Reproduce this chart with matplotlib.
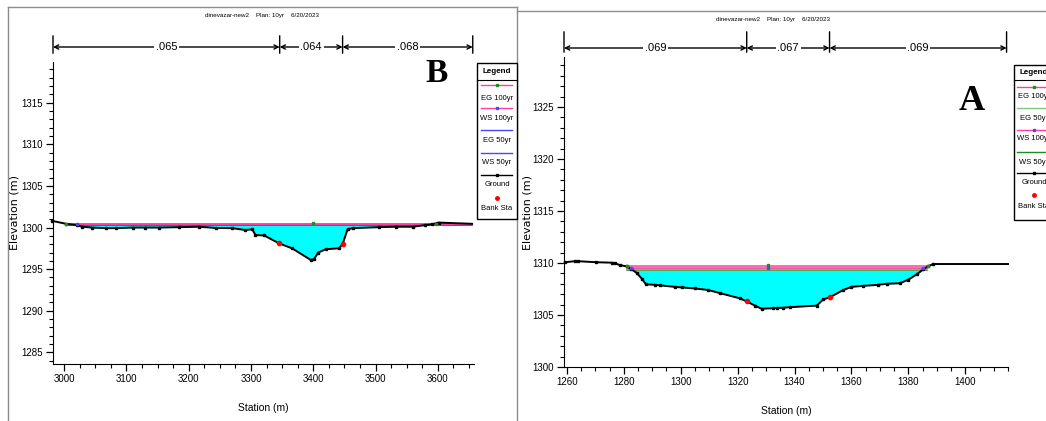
import numpy as np
import matplotlib
matplotlib.use('Agg')
import matplotlib.pyplot as plt
from matplotlib.ticker import MultipleLocator
from matplotlib.lines import Line2D
from matplotlib.patches import Rectangle

W, H = 1046, 421
plt.rcParams['font.family'] = ['Liberation Sans Narrow', 'Liberation Sans', 'DejaVu Sans']

title_txt = 'dinevazar-new2    Plan: 10yr    6/20/2023'

# ---- cross section B (left)
b_sta = [2981, 3003, 3020, 3029, 3045, 3067, 3083, 3110, 3130, 3152, 3185, 3217,
         3243, 3270, 3291, 3302, 3307, 3321, 3345, 3366, 3396, 3401, 3408, 3420,
         3441, 3447, 3455, 3463, 3506, 3532, 3560, 3580, 3591, 3601, 3655]
b_elev = [1300.8, 1300.45, 1300.3, 1300.1, 1300.0, 1299.93, 1299.93, 1300.0, 1300.0,
          1300.0, 1300.05, 1300.1, 1299.95, 1299.93, 1299.7, 1299.8, 1299.1, 1299.05,
          1298.1, 1297.5, 1296.1, 1296.2, 1297.0, 1297.4, 1297.5, 1298.0, 1299.8,
          1299.93, 1300.05, 1300.1, 1300.1, 1300.3, 1300.4, 1300.6, 1300.45]
b_bank_sta = [3345, 3447]
b_bank_elev = [1298.1, 1298.0]
b_eg100, b_ws100, b_eg50, b_ws50 = 1300.45, 1300.40, 1300.35, 1300.30
b_ws_from, b_ws_to = 3003, 3655
b_n_vals = ['.065', '.064', '.068']
b_n_breaks = [2982, 3346, 3447, 3656]

# ---- cross section A (right)
a_sta = [1259.3, 1262.8, 1264, 1270.4, 1275.7, 1276.9, 1278.6, 1281, 1282.7, 1284.5,
         1286.3, 1287.8, 1290.9, 1292.7, 1298, 1300.3, 1305, 1309.7, 1313.8, 1320.8,
         1323.2, 1326.1, 1328.4, 1332.5, 1334, 1336, 1338.4, 1347.8, 1350.1, 1352.4,
         1357.1, 1360, 1364.1, 1369.4, 1372.4, 1377, 1380, 1382.9, 1385.3, 1387,
         1388.8, 1415]
a_elev = [1310.07, 1310.17, 1310.17, 1310.07, 1310.03, 1309.97, 1309.8, 1309.67, 1309.4,
          1309.05, 1308.5, 1307.95, 1307.9, 1307.85, 1307.7, 1307.65, 1307.55, 1307.4,
          1307.1, 1306.6, 1306.3, 1305.9, 1305.6, 1305.65, 1305.68, 1305.7, 1305.75,
          1305.9, 1306.5, 1306.7, 1307.4, 1307.7, 1307.8, 1307.9, 1308.0, 1308.05,
          1308.4, 1308.9, 1309.4, 1309.7, 1309.9, 1309.9]
a_bank_sta = [1323.2, 1352.4]
a_bank_elev = [1306.3, 1306.7]
a_eg100, a_ws100, a_eg50, a_ws50 = 1309.68, 1309.52, 1309.41, 1309.28
a_ws_from, a_ws_to = 1281, 1386.5
a_n_vals = ['.069', '.067', '.069']
a_n_breaks = [1259, 1323.2, 1352.3, 1414.5]

PINK = '#ff3fa0'
BLUE = '#4646ff'
LGREEN = '#7fc87f'
DGREEN = '#1e8c1e'
GRAY = '#8c8c8c'


def fx(x):
    return x / W


def fy(y):
    return 1 - y / H


fig = plt.figure(figsize=(W / 100, H / 100), dpi=100)

# panel frames
for xs, ys in [([8, 8], [7, 421]), ([8, 517], [7, 7]), ([517, 517], [7, 421]),
               ([517, 1046], [11, 11])]:
    fig.add_artist(Line2D([fx(v) for v in xs], [fy(v) for v in ys], color=GRAY, lw=1))


def panel(rect, sta, elev, xlim, ylim, xmaj, xmin, ymaj, bank_sta, bank_elev,
          levels, ws_from, ws_to, fill_top, n_vals, n_breaks, dim_y, bar_y, ylab_x):
    x0, y0, x1, y1 = rect
    ax = fig.add_axes([fx(x0), fy(y1), fx(x1 - x0), (y1 - y0) / H])
    ax.set_xlim(xlim)
    ax.set_ylim(ylim)
    for s in ['top', 'right']:
        ax.spines[s].set_visible(False)
    ax.xaxis.set_major_locator(MultipleLocator(xmaj))
    ax.xaxis.set_minor_locator(MultipleLocator(xmin))
    ax.yaxis.set_major_locator(MultipleLocator(ymaj))
    ax.yaxis.set_minor_locator(MultipleLocator(1))
    ax.tick_params(which='major', length=5, width=0.9, labelsize=7, direction='out', pad=2)
    ax.tick_params(which='minor', length=3, width=0.8, direction='out')
    ax.set_xlabel('Station (m)', fontsize=7.5, labelpad=14)
    fig.text(fx(ylab_x), fy((y0 + y1) / 2), 'Elevation (m)', rotation=90, fontsize=8,
             ha='center', va='center', family=['DejaVu Sans'])

    # water fill
    xs = np.linspace(ws_from, ws_to, 3000)
    g = np.interp(xs, sta, elev)
    ax.fill_between(xs, g, fill_top, where=g < fill_top, interpolate=True,
                    color='#00ffff', lw=0, zorder=1)
    for lev, col in levels:
        ax.plot([ws_from, ws_to], [lev, lev], color=col, lw=1.1, zorder=2)
    ax.plot(sta, elev, color='black', lw=1.4, marker='s', ms=1.6,
            markevery=list(range(len(sta) - 1)), zorder=3, clip_on=False)
    ax.plot(bank_sta, bank_elev, 'o', color='red', ms=3, zorder=4)

    # manning n dimension line
    for b in n_breaks:
        ax.annotate('', xy=(b, fy(bar_y[0])), xytext=(b, fy(bar_y[1])),
                    xycoords=('data', 'figure fraction'),
                    arrowprops=dict(arrowstyle='-', color='black', lw=1),
                    annotation_clip=False)
    for i, v in enumerate(n_vals):
        a, b = n_breaks[i], n_breaks[i + 1]
        ax.annotate('', xy=(a, fy(dim_y)), xytext=(b, fy(dim_y)),
                    xycoords=('data', 'figure fraction'),
                    arrowprops=dict(arrowstyle='<->,head_length=0.3,head_width=0.15',
                                    color='black', lw=1, shrinkA=0, shrinkB=0),
                    annotation_clip=False)
        ax.annotate(v, xy=((a + b) / 2, fy(dim_y)), xycoords=('data', 'figure fraction'),
                    ha='center', va='center', fontsize=8, annotation_clip=False,
                    bbox=dict(boxstyle='square,pad=0.15', fc='white', ec='none'))
    return ax


axb = panel((53, 62, 474, 364), b_sta, b_elev, (2982, 3658), (1283.6, 1319.9),
            100, 25, 5, b_bank_sta, b_bank_elev,
            [(b_eg50, BLUE), (b_ws50, BLUE), (b_eg100, PINK), (b_ws100, PINK)],
            b_ws_from, b_ws_to, b_ws50, b_n_vals, b_n_breaks, 47, (33, 56), 15)
axb.plot([3003, 3400, 3597], [b_eg100, b_eg100 + 0.1, b_eg100], 's', color=DGREEN,
         ms=2, zorder=5)
axb.plot([3020], [b_ws100], 's', color=BLUE, ms=2, zorder=5)

axa = panel((564, 57, 1008, 367), a_sta, a_elev, (1259, 1415), (1300, 1329.8),
            20, 5, 5, a_bank_sta, a_bank_elev,
            [(a_ws50, DGREEN), (a_eg50, LGREEN), (a_ws100, PINK), (a_eg100, PINK)],
            a_ws_from, a_ws_to, a_ws50, a_n_vals, a_n_breaks, 48, (29, 55), 527)
axa.plot([1281, 1330.6, 1387], [a_eg100, a_eg100 + 0.15, a_eg100], 's', color=DGREEN,
         ms=2, zorder=5)
axa.plot([1282.7, 1330.6, 1385.3], [a_ws100, a_ws100, a_ws100], 's', color=BLUE,
         ms=2, zorder=5)

# titles and panel letters
fig.text(fx(262), fy(16), title_txt, fontsize=4.5, ha='center', va='center')
fig.text(fx(773), fy(19), title_txt, fontsize=4.5, ha='center', va='center')
fig.text(fx(437), fy(74), 'B', fontsize=24, fontweight='bold', ha='center', va='center',
         family=['Liberation Serif', 'DejaVu Serif'])
fig.text(fx(972), fy(101), 'A', fontsize=26, fontweight='bold', ha='center', va='center',
         family=['Liberation Serif', 'DejaVu Serif'])


def legend_box(x0, x1, y0, y1, cx, lx0, lx1, items):
    fig.add_artist(Rectangle((fx(x0), fy(y1)), fx(x1 - x0), (y1 - y0) / H,
                             fc='white', ec='black', lw=1, zorder=10))
    fig.add_artist(Line2D([fx(x0), fx(x1)], [fy(80), fy(80)], color='black', lw=0.8,
                          zorder=11))
    fig.text(fx(cx), fy((y0 + 80) / 2), 'Legend', fontsize=5.8, fontweight='bold',
             ha='center', va='center', zorder=12)
    for label, col, mcol, ly, ty in items:
        if col is None:
            fig.add_artist(Line2D([fx(cx)], [fy(ly)], color='red', marker='o', ms=2.5,
                                  lw=0, zorder=12))
        else:
            fig.add_artist(Line2D([fx(lx0), fx(lx1)], [fy(ly), fy(ly)], color=col, lw=1,
                                  zorder=11))
            if mcol:
                fig.add_artist(Line2D([fx(cx)], [fy(ly)], color=mcol, marker='s', ms=2,
                                      lw=0, zorder=12))
        fig.text(fx(cx), fy(ty), label, fontsize=5.5, ha='center', va='center', zorder=12)


legend_box(477, 517, 63, 219, 497, 481, 512, [
    ('EG 100yr', PINK, DGREEN, 85, 98),
    ('WS 100yr', PINK, BLUE, 108, 118),
    ('EG 50yr', BLUE, None, 130, 140),
    ('WS 50yr', BLUE, None, 153, 163),
    ('Ground', 'black', 'black', 175, 185),
    ('Bank Sta', None, None, 198, 208),
])
legend_box(1014, 1062, 65, 220, 1034, 1017, 1052, [
    ('EG 100yr', PINK, DGREEN, 87, 97),
    ('EG 50yr', LGREEN, None, 108, 118),
    ('WS 100yr', PINK, BLUE, 130, 139),
    ('WS 50yr', DGREEN, None, 152, 162),
    ('Ground', 'black', 'black', 173, 183),
    ('Bank Sta', None, None, 195, 207),
])

fig.savefig('out.png', dpi=100)
